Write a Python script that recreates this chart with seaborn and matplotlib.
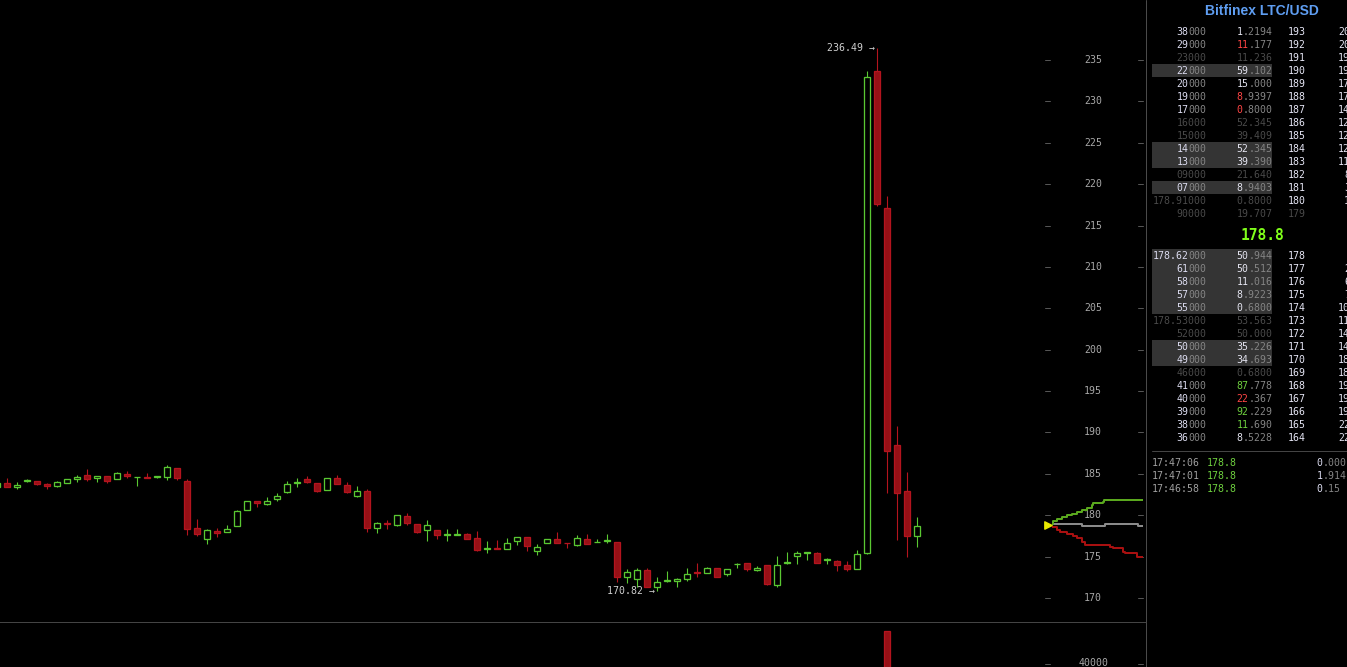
import matplotlib
matplotlib.use("Agg")
import matplotlib.pyplot as plt
from matplotlib.patches import Rectangle
import seaborn as sns
import pandas as pd
import numpy as np

W, H = 1347, 667

# 15 minute candles, one per slot (slot -1 is cut by the left edge)
first_slot = -1
opens = [183.40, 183.85, 183.45, 184.13, 184.09, 183.77, 183.57, 183.93, 184.42, 184.82,
         184.46, 184.70, 184.34, 184.98, 184.58, 184.62, 184.66, 184.58, 185.67, 184.13,
         178.42, 177.09, 178.09, 177.93, 178.66, 180.59, 181.72, 181.40, 182.00, 182.85,
         183.93, 184.38, 183.85, 183.01, 184.50, 183.65, 182.36, 182.93, 178.50, 179.06,
         178.82, 179.87, 178.90, 178.26, 178.18, 177.65, 177.61, 177.73, 177.25, 175.88,
         176.04, 175.88, 176.85, 177.33, 175.72, 176.61, 177.09, 176.69, 176.41, 177.13,
         176.73, 176.93, 176.77, 172.58, 172.26, 173.38, 171.29, 172.05, 172.05, 172.26,
         173.14, 172.98, 173.58, 172.86, 174.07, 174.19, 173.42, 173.99, 171.57, 174.27,
         175.11, 175.40, 175.44, 174.59, 174.43, 173.99, 173.54, 175.40, 233.67, 217.08,
         188.48, 182.93, 177.53]
highs = [183.95, 184.50, 184.00, 184.38, 184.12, 183.93, 184.17, 184.34, 184.86, 185.58,
         184.70, 184.70, 185.18, 185.30, 184.66, 185.10, 184.74, 186.03, 185.67, 184.38,
         179.54, 178.34, 178.46, 178.82, 180.63, 181.68, 181.72, 182.20, 182.69, 184.09,
         184.50, 184.74, 183.85, 184.46, 184.86, 184.01, 183.53, 183.13, 179.22, 179.42,
         179.99, 180.23, 178.90, 179.42, 178.18, 178.30, 178.30, 177.80, 178.10, 176.89,
         177.01, 177.21, 177.33, 177.33, 176.53, 177.09, 177.97, 176.69, 177.57, 177.73,
         177.13, 177.73, 176.77, 173.46, 173.67, 173.67, 172.58, 173.26, 172.46, 173.66,
         174.23, 173.74, 173.58, 173.46, 174.27, 174.19, 173.87, 173.99, 175.07, 175.56,
         175.64, 175.52, 175.52, 174.83, 174.63, 174.47, 175.80, 233.67, 236.49, 218.57,
         190.78, 185.22, 179.83]
lows = [183.30, 183.40, 183.21, 184.05, 183.61, 183.21, 183.45, 183.93, 184.05, 184.17,
        184.05, 183.93, 184.34, 184.54, 183.57, 184.54, 184.54, 184.30, 184.30, 177.65,
        177.53, 176.56, 177.41, 177.93, 178.66, 180.59, 181.03, 181.28, 181.76, 182.73,
        183.45, 183.93, 182.81, 183.01, 183.81, 182.73, 182.24, 178.01, 177.81, 178.34,
        178.74, 178.82, 177.81, 176.93, 177.09, 176.93, 177.61, 177.10, 175.68, 175.40,
        175.96, 175.88, 176.45, 175.72, 175.24, 176.61, 176.61, 176.08, 176.28, 176.57,
        176.73, 176.69, 171.97, 171.85, 171.37, 171.29, 170.82, 171.97, 171.37, 172.09,
        172.58, 172.98, 172.58, 172.70, 173.58, 173.30, 173.30, 171.57, 171.37, 174.15,
        174.15, 174.59, 174.27, 174.11, 173.30, 173.30, 173.54, 175.30, 217.40, 182.73,
        177.01, 175.00, 176.20]
closes = [183.90, 183.45, 183.69, 184.30, 183.73, 183.49, 183.97, 184.34, 184.66, 184.42,
          184.70, 184.17, 185.06, 184.78, 184.66, 184.54, 184.74, 185.79, 184.54, 178.38,
          177.69, 178.17, 177.81, 178.34, 180.47, 181.68, 181.52, 181.72, 182.32, 183.77,
          184.01, 184.05, 182.97, 184.46, 183.81, 182.85, 182.93, 178.50, 179.06, 178.98,
          179.99, 179.02, 178.01, 178.78, 177.65, 177.73, 177.69, 177.17, 175.84, 176.00,
          175.96, 176.65, 177.33, 176.32, 176.12, 177.09, 176.69, 176.61, 177.21, 176.57,
          176.81, 177.01, 172.58, 173.14, 173.38, 171.29, 171.89, 172.17, 172.30, 172.86,
          173.06, 173.58, 172.58, 173.46, 174.15, 173.46, 173.62, 171.73, 173.99, 174.35,
          175.44, 175.52, 174.27, 174.71, 174.03, 173.54, 175.32, 232.91, 217.56, 187.80,
          182.73, 177.53, 178.70]

vol_slot = [88]
vol_value = [56500]

price_ticks = [170, 175, 180, 185, 190, 195, 200, 205, 210, 215, 220, 225, 230, 235]
vol_ticks = [40000]
last_price = 178.8

# market depth next to the price scale
green_vol = [0, 1, 5, 10, 15, 20, 25, 30, 35, 40, 41, 51, 52, 91]
green_price = [179.0, 179.3, 179.6, 179.8, 180.0, 180.2, 180.4, 180.6, 180.85, 181.2,
               181.45, 181.55, 181.85, 181.85]
red_vol = [0, 5, 8, 15, 21, 25, 30, 33, 58, 61, 71, 73, 85, 91]
red_price = [178.6, 178.2, 177.95, 177.75, 177.55, 177.2, 176.8, 176.4, 176.15, 176.0,
             175.6, 175.45, 174.92, 174.92]
gray_vol = [0, 30, 53, 86, 91]
gray_price = [178.94, 178.74, 178.90, 178.74, 178.74]

# order book
ask_price = ["38000", "29000", "23000", "22000", "20000", "19000", "17000", "16000",
             "15000", "14000", "13000", "09000", "07000", "178.91000", "90000"]
ask_amount = ["1.2194", "11.177", "11.236", "59.102", "15.000", "8.9397", "0.8000", "52.345",
              "39.409", "52.345", "39.390", "21.640", "8.9403", "0.8000", "19.707"]
ask_state = ["n", "n", "d", "h", "n", "n", "n", "d", "d", "h", "h", "d", "h", "d", "d"]
ask_color = ["w", "r", "w", "w", "w", "r", "r", "w", "w", "w", "w", "w", "w", "w", "w"]
ask_level = ["193", "192", "191", "190", "189", "188", "187", "186", "185", "184", "183",
             "182", "181", "180", "179"]
ask_cum = ["20", "20", "19", "19", "17", "17", "14", "12", "12", "12", "11", "8", "3", "1", ""]

bid_price = ["178.62000", "61000", "58000", "57000", "55000", "178.53000", "52000", "50000",
             "49000", "46000", "41000", "40000", "39000", "38000", "36000"]
bid_amount = ["50.944", "50.512", "11.016", "8.9223", "0.6800", "53.563", "50.000", "35.226",
              "34.693", "0.6800", "87.778", "22.367", "92.229", "11.690", "8.5228"]
bid_state = ["h", "h", "h", "h", "h", "d", "d", "h", "h", "d", "n", "n", "n", "n", "n"]
bid_color = ["w", "w", "w", "w", "w", "w", "w", "w", "w", "w", "g", "r", "g", "g", "w"]
bid_level = ["178", "177", "176", "175", "174", "173", "172", "171", "170", "169", "168",
             "167", "166", "165", "164"]
bid_cum = ["", "2", "6", "7", "10", "11", "14", "14", "18", "18", "19", "19", "19", "22", "22"]

trade_time = ["17:47:06", "17:47:01", "17:46:58"]
trade_price = ["178.8", "178.8", "178.8"]
trade_amount = ["0.000", "1.914", "0.15"]

UP = "#5ac832"
DOWN_FILL = "#961016"
DOWN_EDGE = "#b4141e"
BRIGHT = "#dcdcf0"
REST = "#858585"
DIM = "#4a4a4a"
TXT = {"w": "#e4e4f0", "r": "#ff4545", "g": "#6fd13f"}
FS = 7.1
PX = 0.72  # one pixel in points

sns.set_theme(style="dark", rc={"axes.facecolor": "black", "figure.facecolor": "black",
                                "savefig.facecolor": "black"})
plt.rcParams["font.family"] = ["DejaVu Sans Mono"]

fig = plt.figure(figsize=(W / 100, H / 100), dpi=100)
ax = fig.add_axes([0, 45 / H, 1145 / W, 622 / H])
vax = fig.add_axes([0, 0, 1145 / W, 45 / H])
dax = fig.add_axes([1052 / W, 45 / H, 91 / W, 622 / H])
ob = fig.add_axes([1145 / W, 0, 202 / W, 1])

df = pd.DataFrame({"open": opens, "high": highs, "low": lows, "close": closes})
df["slot"] = first_slot + np.arange(len(df))
df["up"] = df["close"] >= df["open"]

# candles
wick_col = np.where(df["up"], UP, DOWN_EDGE)
ax.vlines(df["slot"], df["low"], df["high"], colors=wick_col, lw=PX * 1.1, zorder=2)
body_lo = df[["open", "close"]].min(axis=1)
body_h = (df["close"] - df["open"]).abs()
ax.bar(df["slot"], body_h, bottom=body_lo, width=0.66,
       color=np.where(df["up"], "black", DOWN_FILL),
       edgecolor=np.where(df["up"], UP, DOWN_EDGE), linewidth=PX * 1.3, zorder=3)

ax.set_xlim(-0.7, 113.8)
ax.set_ylim(167.10, 242.25)

hi = df.loc[df["high"].idxmax()]
lo = df.loc[df["low"].idxmin()]
ax.text(hi["slot"] - 0.2, hi["high"], f"{hi['high']:.2f} \u2192", color="#d0d0d0",
        ha="right", va="center", fontsize=FS)
ax.text(lo["slot"] - 0.2, lo["low"], f"{lo['low']:.2f} \u2192", color="#d0d0d0",
        ha="right", va="center", fontsize=FS)

ytr = ax.get_yaxis_transform()
for t in price_ticks:
    ax.text(1093 / 1145, t, str(t), color="#a8a8a8", ha="center", va="center",
            fontsize=FS, transform=ytr)
    for a, b in [(1045, 1050), (1138, 1143)]:
        ax.plot([a / 1145, b / 1145], [t, t], color="#555555", lw=PX, transform=ytr)

# volume strip
vax.bar(vol_slot, vol_value, width=0.66, color=DOWN_FILL, edgecolor=DOWN_EDGE,
        linewidth=PX * 1.3)
vax.set_xlim(-0.7, 113.8)
vax.set_ylim(38500, 61000)
vtr = vax.get_yaxis_transform()
for t in vol_ticks:
    vax.text(1094 / 1145, t + 300, str(t), color="#a8a8a8", ha="center", va="center",
             fontsize=FS, transform=vtr)
    for a, b in [(1045, 1050), (1138, 1143)]:
        vax.plot([a / 1145, b / 1145], [t, t], color="#555555", lw=PX, transform=vtr)

for a in (ax, vax):
    a.set_xticks([])
    a.set_yticks([])
    a.grid(False)
    for s in a.spines.values():
        s.set_visible(False)
vax.spines["top"].set_visible(True)
vax.spines["top"].set_color("#444444")
vax.spines["top"].set_linewidth(PX)

# depth curves
dax.set_xlim(0, 91)
dax.set_ylim(167.10, 242.25)
dax.patch.set_alpha(0)
sns.lineplot(x=gray_vol, y=gray_price, ax=dax, color="#8a8a8a", lw=PX * 2,
             estimator=None, drawstyle="steps-post")
sns.lineplot(x=green_vol, y=green_price, ax=dax, color="#5aa81e", lw=PX * 2,
             estimator=None, drawstyle="steps-post")
sns.lineplot(x=red_vol, y=red_price, ax=dax, color="#a81010", lw=PX * 2,
             estimator=None, drawstyle="steps-post")
dax.scatter([-4.5], [last_price], marker=">", s=28, color="#e8e800", clip_on=False, zorder=5)
dax.set_axis_off()

# order book panel, drawn in pixel units
ob.set_xlim(1145, 1347)
ob.set_ylim(H, 0)
ob.set_axis_off()
ob.plot([1145.5, 1145.5], [0, H], color="#4a4a4a", lw=PX, clip_on=False)

cw = 0.602 * FS * 100 / 72


def seg(x_right, y, s, n, c1, c2):
    # bright head and grey tail side by side, monospace so widths are known
    x0 = x_right - len(s) * cw
    if n:
        ob.text(x0, y, s[:n], color=c1, ha="left", va="center", fontsize=FS)
    if s[n:]:
        ob.text(x0 + n * cw, y, s[n:], color=c2, ha="left", va="center", fontsize=FS)


def book(y0, prices, amounts, states, colors, levels, cums):
    for k in range(len(prices)):
        y = y0 + 13 * k
        st = states[k]
        if st == "h":
            ob.add_patch(Rectangle((1152, y - 6.5), 120, 13, color="#343434", lw=0))
        p = prices[k]
        nb = len(p) - 3
        if st == "d":
            seg(1206, y, p, 0, DIM, DIM)
            seg(1272, y, amounts[k], 0, DIM, DIM)
        else:
            seg(1206, y, p, nb, BRIGHT, REST)
            seg(1272, y, amounts[k], amounts[k].index("."), TXT[colors[k]], REST)
        lvl_c = DIM if (st == "d" and cums[k] == "") else "#e6e6f5"
        ob.text(1288, y, levels[k], color=lvl_c, ha="left", va="center", fontsize=FS)
        if cums[k]:
            ob.text(1350, y, cums[k], color="#e6e6f5", ha="right", va="center", fontsize=FS)


ob.text(1262, 11, "Bitfinex LTC/USD", color="#5f9ef2", ha="center", va="center",
        fontsize=10, fontweight="bold", family=["Liberation Sans", "DejaVu Sans"])
book(31.7, ask_price, ask_amount, ask_state, ask_color, ask_level, ask_cum)
ob.text(1262, 235, f"{last_price}", color="#80ff1a", ha="center", va="center",
        fontsize=10.5, fontweight="bold")
book(255.7, bid_price, bid_amount, bid_state, bid_color, bid_level, bid_cum)

ob.plot([1152, 1347], [450.7, 450.7], color="#444444", lw=PX)
for k in range(len(trade_time)):
    y = 463.3 + 13 * k
    ob.text(1152, y, trade_time[k], color="#a0a0a0", ha="left", va="center", fontsize=FS)
    ob.text(1207, y, trade_price[k], color="#6fd13f", ha="left", va="center", fontsize=FS)
    s = trade_amount[k]
    ob.text(1316.7, y, s[:1], color=BRIGHT, ha="left", va="center", fontsize=FS)
    ob.text(1316.7 + cw, y, s[1:], color=REST, ha="left", va="center", fontsize=FS)

fig.savefig("out.png", dpi=100, facecolor="black")
